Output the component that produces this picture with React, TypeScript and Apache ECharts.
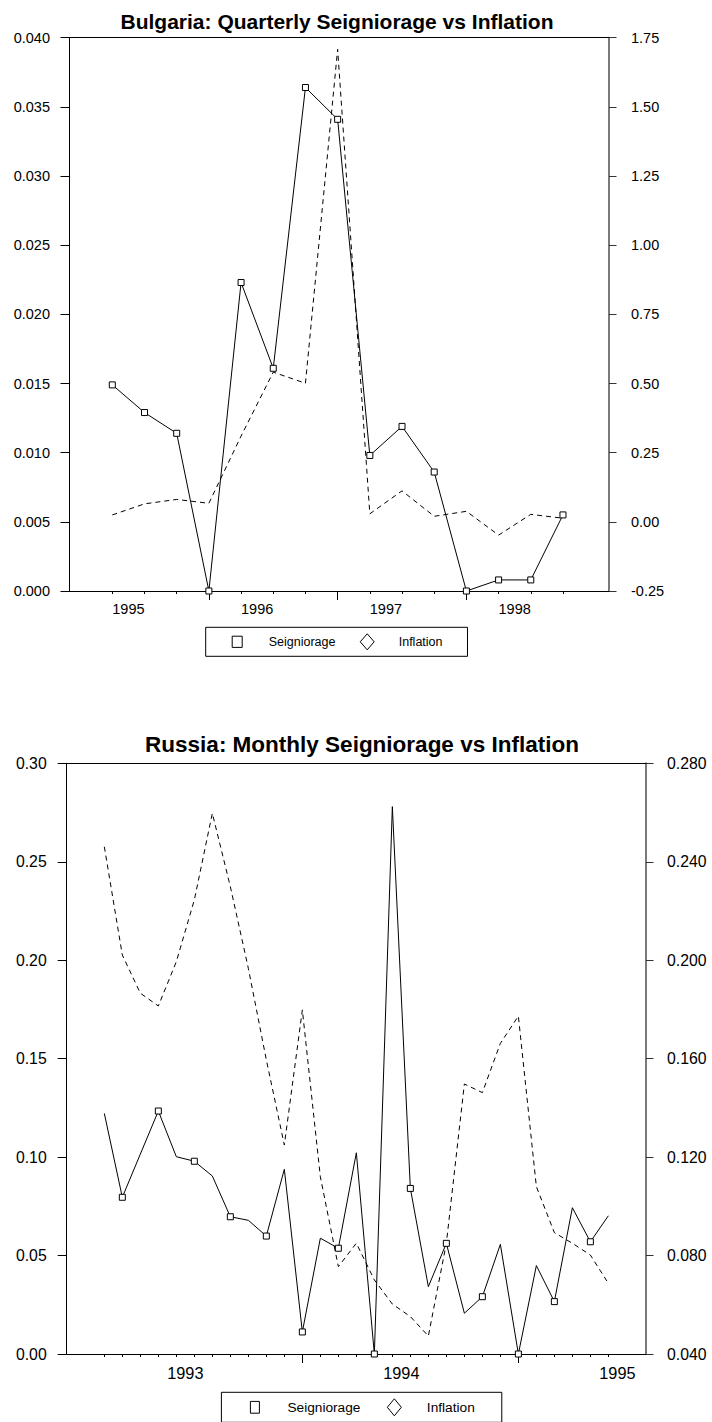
import React, { useEffect, useRef } from 'react';
import * as echarts from 'echarts';

// ---------- Data ----------
const seriesNames = ['Seigniorage', 'Inflation'];

// Bulgaria, quarterly (15 observations)
const bulgariaYearLabels = ['1995', '1996', '1997', '1998'];
const bulgariaSeigniorage = [
  0.0149, 0.0129, 0.0114, 0.0, 0.0223, 0.0161, 0.0364, 0.0341, 0.0098, 0.0119, 0.0086, 0.0, 0.0008, 0.0008, 0.0055,
];
const bulgariaInflation = [
  0.025, 0.065, 0.081, 0.067, 0.31, 0.541, 0.501, 1.708, 0.029, 0.112, 0.02, 0.038, -0.048, 0.027, 0.013,
];

// Russia, monthly (29 observations)
const russiaYearLabels = ['1993', '1994', '1995'];
const russiaSeigniorage = [
  0.1222, 0.0796, 0.1015, 0.1234, 0.1002, 0.0979, 0.0904, 0.0697, 0.0679, 0.0599, 0.0938, 0.0112, 0.0588, 0.0537,
  0.1022, 0.0, 0.278, 0.0841, 0.0342, 0.0562, 0.0207, 0.0291, 0.0557, 0.0, 0.0449, 0.0266, 0.0743, 0.057, 0.0702,
];
const russiaInflation = [
  0.2461, 0.2021, 0.1866, 0.1814, 0.1994, 0.2245, 0.2597, 0.2299, 0.1967, 0.1595, 0.1249, 0.1798, 0.112, 0.0755,
  0.085, 0.0701, 0.0603, 0.0552, 0.0473, 0.085, 0.1497, 0.1462, 0.1662, 0.1773, 0.108, 0.0893, 0.085, 0.0802, 0.0687,
];

// ---------- Styling ----------
const FONT = '"Liberation Sans", Arial, Helvetica, sans-serif';
const BLACK = '#000';

const idx = (arr: number[]) => arr.map((_, i) => i);
const pairs = (arr: number[]) => arr.map((v, i) => [i, v]);

function xAxesFor(
  gridIndex: number,
  min: number,
  max: number,
  tickValues: number[],
  majorTicks: number[],
  labelValues: number[],
  labels: string[],
  fontSize: number
) {
  const common = {
    gridIndex,
    type: 'value' as const,
    min,
    max,
    splitLine: { show: false },
  };
  return [
    {
      ...common,
      position: 'bottom',
      axisLine: { show: true, onZero: false, lineStyle: { color: BLACK, width: 1 } },
      axisTick: { show: true, customValues: tickValues, length: 3, lineStyle: { color: BLACK, width: 1 } },
      axisLabel: {
        show: true,
        customValues: labelValues,
        formatter: (v: number) => labels[labelValues.findIndex((p) => Math.abs(p - v) < 1e-6)] ?? '',
        fontSize,
        color: BLACK,
        fontFamily: FONT,
        margin: 10.5,
      },
    },
    {
      ...common,
      position: 'bottom',
      axisLine: { show: false, onZero: false },
      axisTick: { show: true, customValues: majorTicks, length: 9, lineStyle: { color: BLACK, width: 1 } },
      axisLabel: { show: false },
    },
    {
      ...common,
      position: 'top',
      axisLine: { show: true, onZero: false, lineStyle: { color: BLACK, width: 1 } },
      axisTick: { show: false },
      axisLabel: { show: false },
    },
  ];
}

function yAxisFor(
  gridIndex: number,
  position: 'left' | 'right',
  min: number,
  max: number,
  interval: number,
  decimals: number,
  fontSize: number,
  margin: number,
  tickLen: number
) {
  const right = position === 'right';
  return {
    gridIndex,
    type: 'value',
    position,
    min,
    max,
    interval,
    splitLine: { show: false },
    axisLine: {
      show: true,
      onZero: false,
      lineStyle: { color: right ? '#7a7a7a' : BLACK, width: right ? 2 : 1 },
    },
    axisTick: { show: true, length: tickLen, lineStyle: { color: right ? '#333' : BLACK, width: 1 } },
    axisLabel: {
      formatter: (v: number) => v.toFixed(decimals),
      fontSize,
      color: BLACK,
      fontFamily: FONT,
      margin,
    },
  };
}

function legendFor(
  left: number,
  top: number,
  iconW: number,
  iconH: number,
  square: string,
  diamond: string,
  fontSize: number,
  textPad: number,
  itemGap: number,
  padding: number[]
) {
  const hollow = { color: '#fff', borderColor: BLACK, borderWidth: 1 };
  return {
    left,
    top,
    orient: 'horizontal',
    itemWidth: iconW,
    itemHeight: iconH,
    itemGap,
    padding,
    borderColor: BLACK,
    borderWidth: 1,
    backgroundColor: '#fff',
    selectedMode: false,
    textStyle: { fontSize, color: BLACK, fontFamily: FONT, padding: [0, 0, 0, textPad] },
    data: [
      { name: seriesNames[0], icon: square, itemStyle: hollow },
      { name: seriesNames[1], icon: diamond, itemStyle: hollow },
    ],
  };
}

const App: React.FC = () => {
  const ref = useRef<HTMLDivElement>(null);

  useEffect(() => {
    if (!ref.current) return;
    const chart = echarts.init(ref.current, undefined, { renderer: 'svg' });

    const bulgariaX = xAxesFor(
      0,
      -1.33,
      15.43,
      idx(bulgariaSeigniorage),
      [3, 7, 11],
      bulgariaYearLabels.map((_, k) => 0.5 + 4 * k),
      bulgariaYearLabels,
      14.5
    );
    const russiaX = xAxesFor(
      1,
      -2.09,
      30.09,
      idx(russiaSeigniorage),
      [11, 23],
      russiaYearLabels.map((_, k) => 4.5 + 12 * k),
      russiaYearLabels,
      16.3
    );

    const solidLine = { color: BLACK, width: 1, type: 'solid' };
    const dashedLine = { color: BLACK, width: 1, type: [5, 4] };
    const hollowMarker = { color: '#fff', borderColor: BLACK, borderWidth: 1 };

    const option: any = {
      animation: false,
      backgroundColor: '#fff',
      textStyle: { fontFamily: FONT },
      title: [
        {
          text: 'Bulgaria: Quarterly Seigniorage vs Inflation',
          left: 337,
          top: 10.5,
          textAlign: 'center',
          padding: 0,
          textStyle: { fontSize: 21, fontWeight: 'bold', color: BLACK, fontFamily: FONT },
        },
        {
          text: 'Russia: Monthly Seigniorage vs Inflation',
          left: 362,
          top: 732.5,
          textAlign: 'center',
          padding: 0,
          textStyle: { fontSize: 22.5, fontWeight: 'bold', color: BLACK, fontFamily: FONT },
        },
      ],
      legend: [
        legendFor(
          205.7,
          627.3,
          14,
          16,
          'path://M0,0M14,16M2,2.4L12,2.4L12,13.6L2,13.6Z',
          'path://M7,0L14,8L7,16L0,8Z',
          12.5,
          19.5,
          24.3,
          [6, 25, 6, 24]
        ),
        legendFor(
          221.4,
          1392.3,
          14,
          17,
          'path://M0,0M14,17M2.5,2.6L11.5,2.6L11.5,14.4L2.5,14.4Z',
          'path://M7,0L14,8.5L7,17L0,8.5Z',
          13.7,
          20.5,
          26.4,
          [6, 27, 6, 26]
        ),
      ],
      grid: [
        { left: 69.5, top: 37.7, width: 539.5, height: 553.3, outerBoundsMode: 'none', containLabel: false },
        { left: 66.7, top: 763.3, width: 579.3, height: 590.7, outerBoundsMode: 'none', containLabel: false },
      ],
      xAxis: [...bulgariaX, ...russiaX],
      yAxis: [
        yAxisFor(0, 'left', 0, 0.04, 0.005, 3, 14.5, 19.5, 9),
        yAxisFor(0, 'right', -0.25, 1.75, 0.25, 2, 14.5, 22, 7.5),
        yAxisFor(1, 'left', 0, 0.3, 0.05, 2, 15.8, 20, 9),
        yAxisFor(1, 'right', 0.04, 0.28, 0.04, 3, 15.8, 21, 7.5),
      ],
      series: [
        {
          name: seriesNames[1],
          type: 'line',
          xAxisIndex: 0,
          yAxisIndex: 1,
          data: pairs(bulgariaInflation),
          symbol: 'none',
          lineStyle: dashedLine,
          itemStyle: { color: BLACK },
          silent: true,
          emphasis: { disabled: true },
          z: 2,
        },
        {
          name: seriesNames[0],
          type: 'line',
          xAxisIndex: 0,
          yAxisIndex: 0,
          data: pairs(bulgariaSeigniorage),
          symbol: 'rect',
          symbolSize: 6,
          itemStyle: hollowMarker,
          lineStyle: solidLine,
          silent: true,
          emphasis: { disabled: true },
          z: 3,
        },
        {
          name: seriesNames[1],
          type: 'line',
          xAxisIndex: 3,
          yAxisIndex: 3,
          data: pairs(russiaInflation),
          symbol: 'none',
          lineStyle: dashedLine,
          itemStyle: { color: BLACK },
          silent: true,
          emphasis: { disabled: true },
          z: 2,
        },
        {
          name: seriesNames[0],
          type: 'line',
          xAxisIndex: 3,
          yAxisIndex: 2,
          data: pairs(russiaSeigniorage),
          symbol: (_v: any, params: any) => (params.dataIndex % 2 === 1 ? 'rect' : 'none'),
          symbolSize: 6,
          itemStyle: hollowMarker,
          lineStyle: solidLine,
          silent: true,
          emphasis: { disabled: true },
          z: 3,
        },
      ],
    };

    chart.setOption(option);
    return () => {
      chart.dispose();
    };
  }, []);

  return (
    <div
      ref={ref}
      style={{ position: 'absolute', left: 0, top: 0, width: 712, height: 1422, background: '#fff' }}
    />
  );
};

export default App;
